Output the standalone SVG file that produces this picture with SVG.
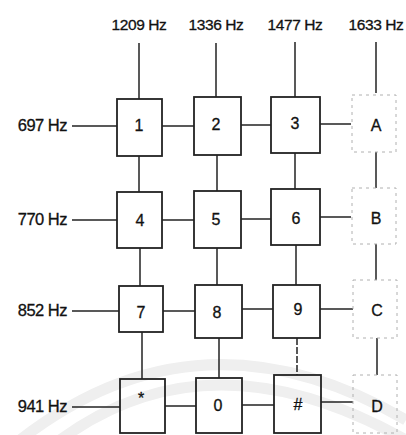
<svg xmlns="http://www.w3.org/2000/svg" width="406" height="435" viewBox="0 0 406 435">
<style>
.lbl{font-family:"Liberation Sans",Arial,sans-serif;font-size:15.5px;fill:#111;stroke:#111;stroke-width:0.3;letter-spacing:-0.4px}
.lbl2{font-size:16.5px;letter-spacing:-0.5px}
.key{font-family:"Liberation Sans",Arial,sans-serif;font-size:16px;fill:#111;stroke:#111;stroke-width:0.3;text-anchor:middle}
.box{fill:none;stroke:#222;stroke-width:1.8}
.dbox{fill:none;stroke:#b0b0b0;stroke-width:1;stroke-dasharray:3 4}
.ln{stroke:#222;stroke-width:1.5;fill:none}
.wm{stroke:#efefef;stroke-width:11;fill:none}
</style>
<rect width="406" height="435" fill="#fff"/>
<g id="watermark">
<path class="wm" d="M20 440 Q200 300 406 420"/>
<path class="wm" d="M60 440 Q210 330 406 440"/>
</g>
<g id="labels">
<text class="lbl" x="139" y="30" text-anchor="middle">1209 Hz</text>
<text class="lbl" x="216" y="30" text-anchor="middle">1336 Hz</text>
<text class="lbl" x="295" y="30" text-anchor="middle">1477 Hz</text>
<text class="lbl" x="376" y="30" text-anchor="middle">1633 Hz</text>
<text class="lbl lbl2" x="67" y="131" text-anchor="end">697 Hz</text>
<text class="lbl lbl2" x="67" y="225" text-anchor="end">770 Hz</text>
<text class="lbl lbl2" x="67" y="316" text-anchor="end">852 Hz</text>
<text class="lbl lbl2" x="67" y="412" text-anchor="end">941 Hz</text>
</g>
<g id="connectors">
<line class="ln" x1="139" y1="43" x2="139" y2="99"/>
<line class="ln" x1="216" y1="43" x2="216" y2="97"/>
<line class="ln" x1="295" y1="42" x2="295" y2="97"/>
<line class="ln" x1="376" y1="42" x2="376" y2="93"/>
<line class="ln" x1="72" y1="126" x2="117" y2="126"/>
<line class="ln" x1="72" y1="220" x2="117" y2="220"/>
<line class="ln" x1="72" y1="311" x2="119" y2="311"/>
<line class="ln" x1="72" y1="407" x2="120" y2="407"/>
<line class="ln" x1="162" y1="126" x2="194" y2="126"/>
<line class="ln" x1="241" y1="125" x2="271" y2="125"/>
<line class="ln" x1="320" y1="124" x2="351" y2="124"/>
<line class="ln" x1="162" y1="220" x2="194" y2="220"/>
<line class="ln" x1="241" y1="219" x2="271" y2="219"/>
<line class="ln" x1="320" y1="217" x2="351" y2="217"/>
<line class="ln" x1="163" y1="311" x2="195" y2="311"/>
<line class="ln" x1="242" y1="309" x2="273" y2="309"/>
<line class="ln" x1="320" y1="309" x2="353" y2="309"/>
<line class="ln" x1="165" y1="406" x2="196" y2="406"/>
<line class="ln" x1="242" y1="405" x2="274" y2="405"/>
<line class="ln" x1="321" y1="402" x2="353" y2="402"/>
<line class="ln" x1="139" y1="156" x2="139" y2="192"/>
<line class="ln" x1="217" y1="155" x2="217" y2="191"/>
<line class="ln" x1="295" y1="153" x2="295" y2="189"/>
<line class="ln" x1="376" y1="152" x2="376" y2="188"/>
<line class="ln" x1="140" y1="248" x2="140" y2="286"/>
<line class="ln" x1="217" y1="248" x2="217" y2="285"/>
<line class="ln" x1="296" y1="245" x2="296" y2="285"/>
<line class="ln" x1="376" y1="244" x2="376" y2="280"/>
<line class="ln" x1="142" y1="332" x2="142" y2="379"/>
<line class="ln" x1="219" y1="338" x2="219" y2="378"/>
<line class="ln" x1="297" y1="338" x2="297" y2="375" stroke-dasharray="7 2"/>
<line class="ln" x1="377" y1="338" x2="377" y2="375"/>
</g>
<g id="k1"><rect class="box" x="117" y="99" width="45" height="57"/><text class="key" x="139" y="131">1</text></g>
<g id="k2"><rect class="box" x="194" y="97" width="47" height="58"/><text class="key" x="216" y="130">2</text></g>
<g id="k3"><rect class="box" x="271" y="97" width="49" height="56"/><text class="key" x="295" y="129">3</text></g>
<g id="kA"><rect class="dbox" x="352" y="95" width="44" height="57"/><text class="key" x="376" y="131" font-size="17">A</text></g>
<g id="k4"><rect class="box" x="117" y="192" width="45" height="56"/><text class="key" x="140" y="226">4</text></g>
<g id="k5"><rect class="box" x="194" y="191" width="47" height="57"/><text class="key" x="216" y="225">5</text></g>
<g id="k6"><rect class="box" x="271" y="189" width="49" height="56"/><text class="key" x="296" y="224">6</text></g>
<g id="kB"><rect class="dbox" x="352" y="188" width="44" height="56"/><text class="key" x="376" y="224" font-size="17">B</text></g>
<g id="k7"><rect class="box" x="119" y="286" width="44" height="46"/><text class="key" x="141" y="318">7</text></g>
<g id="k8"><rect class="box" x="195" y="285" width="47" height="53"/><text class="key" x="217" y="318">8</text></g>
<g id="k9"><rect class="box" x="273" y="285" width="47" height="53"/><text class="key" x="298" y="315">9</text></g>
<g id="kC"><rect class="dbox" x="353" y="280" width="44" height="58"/><text class="key" x="377" y="316" font-size="17">C</text></g>
<g id="kstar"><rect class="box" x="120" y="379" width="45" height="54"/><text class="key" x="141" y="404" font-size="18">*</text></g>
<g id="k0"><rect class="box" x="196" y="378" width="46" height="55"/><text class="key" x="218" y="411">0</text></g>
<g id="khash"><rect class="box" x="274" y="375" width="47" height="58"/><text class="key" x="298" y="410">#</text></g>
<g id="kD"><rect class="dbox" x="353" y="375" width="44" height="58"/><text class="key" x="377" y="412" font-size="17">D</text></g>
</svg>
